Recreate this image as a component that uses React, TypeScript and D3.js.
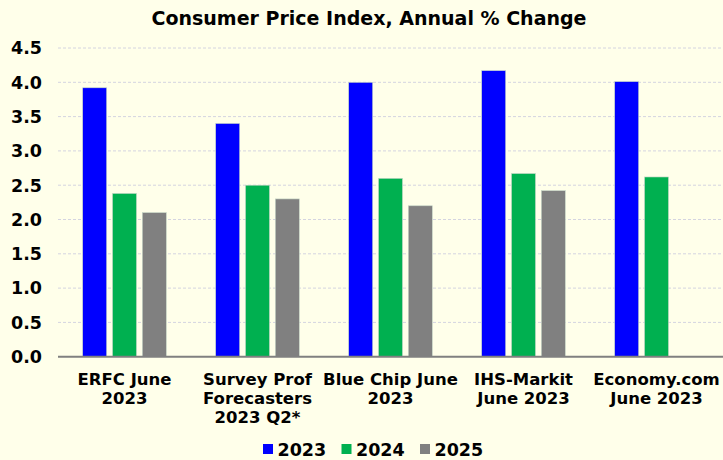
import React from "react";
import * as d3 from "d3";

const categories = [
  ["ERFC June", "2023"],
  ["Survey Prof", "Forecasters", "2023 Q2*"],
  ["Blue Chip June", "2023"],
  ["IHS-Markit", "June 2023"],
  ["Economy.com", "June 2023"],
];
const seriesNames = ["2023", "2024", "2025"];
const values2023 = [3.92, 3.4, 4.0, 4.17, 4.01];
const values2024 = [2.38, 2.5, 2.6, 2.67, 2.62];
const values2025: (number | null)[] = [2.1, 2.3, 2.2, 2.42, null];
const yTicks = [0, 0.5, 1, 1.5, 2, 2.5, 3, 3.5, 4, 4.5];
const colors = ["#0000FF", "#00B050", "#808080"];

const W = 723;
const H = 460;
const FONT = "Verdana, 'DejaVu Sans', sans-serif";

export default function App() {
  const series = [values2023, values2024, values2025];
  const x0 = d3
    .scaleBand<number>()
    .domain(categories.map((_, i) => i))
    .range([58, 723])
    .paddingInner(0)
    .paddingOuter(0);
  const y = d3.scaleLinear().domain([0, 4.5]).range([356.7, 48]);
  const barW = 24;
  const step = 29.8;

  return (
    <svg
      width={W}
      height={H}
      style={{ position: "absolute", left: 0, top: 0, display: "block" }}
      fontFamily={FONT}
    >
      <rect x={0} y={0} width={W} height={H} fill="#FFFFEA" />
      <text x={369} y={25} textAnchor="middle" fontSize={19} fontWeight="bold" fill="#000">
        Consumer Price Index, Annual % Change
      </text>
      {yTicks.map((t) => (
        <g key={t}>
          {t > 0 && (
            <line
              x1={58}
              x2={723}
              y1={y(t)}
              y2={y(t)}
              stroke="#D4D4E0"
              strokeWidth={1}
              strokeDasharray="3,2"
            />
          )}
          <text
            x={42}
            y={y(t)}
            dy="0.36em"
            textAnchor="end"
            fontSize={17.5}
            fontWeight="bold"
            fill="#000"
          >
            {t.toFixed(1)}
          </text>
        </g>
      ))}
      {categories.map((_, ci) => {
        const cx = (x0(ci) as number) + x0.bandwidth() / 2;
        return series.map((s, si) => {
          const v = s[ci];
          if (v == null) return null;
          const bx = cx + (si - 1) * step - barW / 2;
          return (
            <rect
              key={`${ci}-${si}`}
              x={bx}
              y={y(v)}
              width={barW}
              height={y(0) - y(v)}
              fill={colors[si]}
              stroke="#C8D8C8"
              strokeWidth={0.6}
            />
          );
        });
      })}
      <line x1={58} x2={723} y1={y(0)} y2={y(0)} stroke="#808080" strokeWidth={2} />
      {categories.map((lines, ci) => {
        const cx = (x0(ci) as number) + x0.bandwidth() / 2;
        return (
          <text key={ci} textAnchor="middle" fontSize={16.5} fontWeight="bold" fill="#000">
            {lines.map((l, li) => (
              <tspan key={li} x={cx} y={384.5 + li * 19.3}>
                {l}
              </tspan>
            ))}
          </text>
        );
      })}
      {seriesNames.map((n, i) => {
        const lx = 263 + i * 78.5;
        return (
          <g key={n}>
            <rect x={lx} y={444} width={10} height={10} fill={colors[i]} />
            <text x={lx + 14.5} y={455.5} fontSize={17.5} fontWeight="bold" fill="#000">
              {n}
            </text>
          </g>
        );
      })}
    </svg>
  );
}
